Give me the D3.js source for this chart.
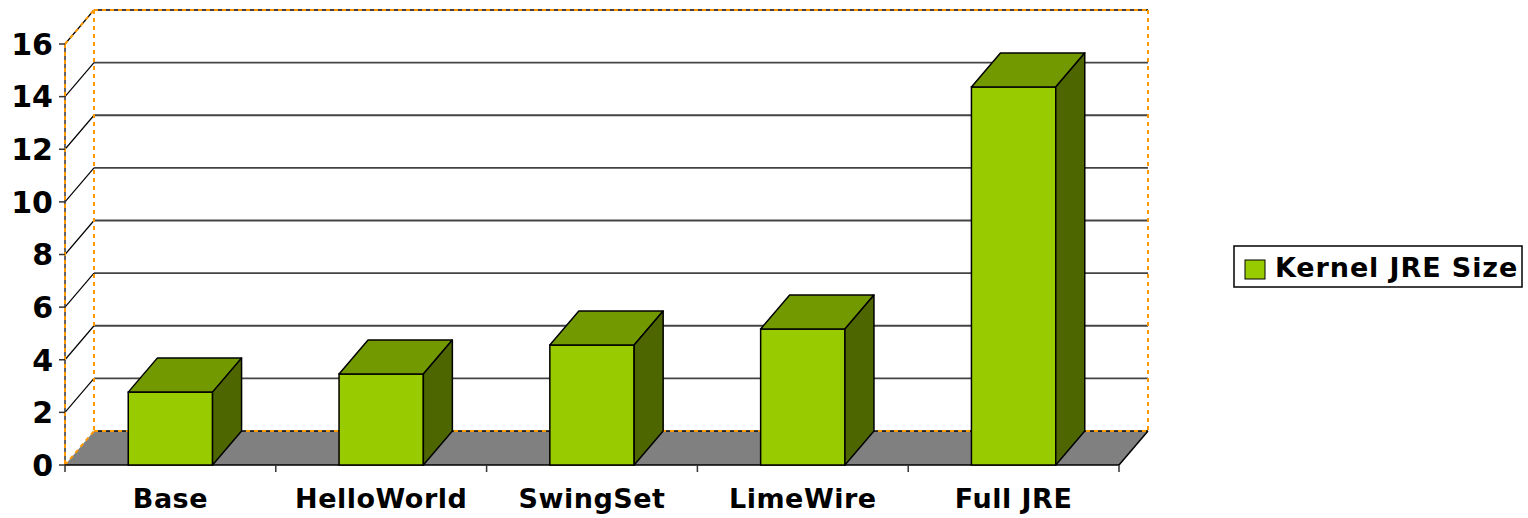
<!DOCTYPE html>
<html>
<head>
<meta charset="utf-8">
<script src="https://cdn.jsdelivr.net/npm/d3@7"></script>
<style>
  body { margin: 0; background: #fff; }
  svg { display: block; }
  text { font-family: "DejaVu Sans", sans-serif; font-weight: bold; fill: #000; }
</style>
</head>
<body>
<svg width="1528" height="518"></svg>
<script>
const width = 1528;
const height = 518;

// data
const categories = ['Base', 'HelloWorld', 'SwingSet', 'LimeWire', 'Full JRE'];
const sizes = [2.77, 3.46, 4.56, 5.17, 14.37];
const yTicks = [0, 2, 4, 6, 8, 10, 12, 14, 16];
const seriesName = 'Kernel JRE Size';

// 3d offset of the back wall
const dx = 29;
const dy = -34;

const plotLeft = 65, plotRight = 1119, plotBottom = 465, plotTop = 44;

const svg = d3.select('svg');

const x = d3.scaleBand()
    .domain(categories)
    .range([plotLeft, plotRight])
    .paddingInner(0.6)
    .paddingOuter(0.3);

// category boundaries for ticks
const xEdge = d3.scaleLinear().domain([0, categories.length]).range([plotLeft, plotRight]);

const y = d3.scaleLinear().domain([0, 16]).range([plotBottom, plotTop]);

const colFront = '#99cc00';
const colTop = '#739900';
const colSide = '#4d6600';
const orange = '#ff9900';

const g = svg.append('g');

// back wall gridlines
g.selectAll('.grid')
    .data(yTicks.filter(d => d > 0 && d < 16))
    .enter().append('line')
    .attr('x1', plotLeft + dx).attr('x2', plotRight + dx)
    .attr('y1', d => y(d) + dy).attr('y2', d => y(d) + dy)
    .attr('stroke', '#444').attr('stroke-width', 1.8);

// left wall diagonals
g.selectAll('.diag')
    .data(yTicks.filter(d => d > 0))
    .enter().append('line')
    .attr('x1', plotLeft).attr('x2', plotLeft + dx)
    .attr('y1', d => y(d)).attr('y2', d => y(d) + dy)
    .attr('stroke', '#000').attr('stroke-width', 1.2);

// back wall top line
g.append('line')
    .attr('x1', plotLeft + dx).attr('x2', plotRight + dx)
    .attr('y1', y(16) + dy).attr('y2', y(16) + dy)
    .attr('stroke', '#000').attr('stroke-width', 1.5);

// floor
g.append('path')
    .attr('d', d3.line()([[plotLeft, plotBottom], [plotRight, plotBottom], [plotRight + dx, plotBottom + dy], [plotLeft + dx, plotBottom + dy]]) + 'Z')
    .attr('fill', '#808080').attr('stroke', 'none');
g.append('line')
    .attr('x1', plotLeft + dx).attr('x2', plotRight + dx)
    .attr('y1', plotBottom + dy).attr('y2', plotBottom + dy)
    .attr('stroke', '#000').attr('stroke-width', 1.5);
g.append('line')
    .attr('x1', plotRight).attr('x2', plotRight + dx)
    .attr('y1', plotBottom).attr('y2', plotBottom + dy)
    .attr('stroke', '#000').attr('stroke-width', 1.5);

// orange dashed wall outlines
const dashes = [
    [[plotLeft + dx, y(16) + dy], [plotRight + dx, y(16) + dy]],
    [[plotRight + dx, y(16) + dy], [plotRight + dx, plotBottom + dy]],
    [[plotLeft + dx, y(16) + dy], [plotLeft + dx, plotBottom + dy]],
    [[plotLeft + dx, plotBottom + dy], [plotRight + dx, plotBottom + dy]],
    [[plotLeft, y(16)], [plotLeft + dx, y(16) + dy]],
    [[plotLeft, plotBottom], [plotLeft + dx, plotBottom + dy]]
];

// y axis line
g.append('line')
    .attr('x1', plotLeft).attr('x2', plotLeft)
    .attr('y1', y(16)).attr('y2', plotBottom)
    .attr('stroke', '#333').attr('stroke-width', 1.5);

g.selectAll('.dash')
    .data(dashes)
    .enter().append('line')
    .attr('x1', d => d[0][0]).attr('y1', d => d[0][1])
    .attr('x2', d => d[1][0]).attr('y2', d => d[1][1])
    .attr('stroke', orange).attr('stroke-width', 2)
    .attr('stroke-dasharray', '4,4');
g.append('line')
    .attr('x1', plotLeft).attr('x2', plotLeft)
    .attr('y1', y(16)).attr('y2', plotBottom)
    .attr('stroke', orange).attr('stroke-width', 2)
    .attr('stroke-dasharray', '4,4');

// y ticks and labels
g.selectAll('.ytick')
    .data(yTicks)
    .enter().append('line')
    .attr('x1', plotLeft - 6).attr('x2', plotLeft)
    .attr('y1', d => y(d)).attr('y2', d => y(d))
    .attr('stroke', '#333').attr('stroke-width', 1.5);
g.selectAll('.ylabel')
    .data(yTicks)
    .enter().append('text')
    .attr('x', 53)
    .attr('y', d => y(d))
    .attr('dy', '0.36em')
    .attr('text-anchor', 'end')
    .style('font-size', '30px')
    .text(d => d);

// bottom axis line and ticks
g.append('line')
    .attr('x1', plotLeft).attr('x2', plotRight)
    .attr('y1', plotBottom).attr('y2', plotBottom)
    .attr('stroke', '#000').attr('stroke-width', 1.5);
g.selectAll('.xtick')
    .data(d3.range(categories.length + 1))
    .enter().append('line')
    .attr('x1', d => xEdge(d)).attr('x2', d => xEdge(d))
    .attr('y1', plotBottom).attr('y2', plotBottom + 7)
    .attr('stroke', '#333').attr('stroke-width', 1.5);

// bars
const bars = g.selectAll('.bar')
    .data(categories.map((c, i) => ({ cat: c, v: sizes[i] })))
    .enter().append('g');

bars.append('rect')
    .attr('x', d => x(d.cat))
    .attr('y', d => y(d.v))
    .attr('width', x.bandwidth())
    .attr('height', d => plotBottom - y(d.v))
    .attr('fill', colFront).attr('stroke', '#000').attr('stroke-width', 1.5);

bars.append('path')
    .attr('d', d => {
        const x0 = x(d.cat), x1 = x0 + x.bandwidth(), yt = y(d.v);
        return d3.line()([[x0, yt], [x1, yt], [x1 + dx, yt + dy], [x0 + dx, yt + dy]]) + 'Z';
    })
    .attr('fill', colTop).attr('stroke', '#000').attr('stroke-width', 1.5).attr('stroke-linejoin', 'round');

bars.append('path')
    .attr('d', d => {
        const x1 = x(d.cat) + x.bandwidth(), yt = y(d.v);
        return d3.line()([[x1, yt], [x1 + dx, yt + dy], [x1 + dx, plotBottom + dy], [x1, plotBottom]]) + 'Z';
    })
    .attr('fill', colSide).attr('stroke', '#000').attr('stroke-width', 1.5).attr('stroke-linejoin', 'round');

// category labels
g.selectAll('.xlabel')
    .data(categories)
    .enter().append('text')
    .attr('x', d => x(d) + x.bandwidth() / 2)
    .attr('y', 508)
    .attr('text-anchor', 'middle')
    .style('font-size', '27px')
    .style('letter-spacing', '0.5px')
    .text(d => d);

// legend
const legend = svg.append('g').attr('transform', 'translate(1234,246)');
legend.append('rect')
    .attr('width', 288).attr('height', 41)
    .attr('fill', '#fff').attr('stroke', '#000').attr('stroke-width', 1.5);
legend.append('rect')
    .attr('x', 11).attr('y', 14).attr('width', 20).attr('height', 19)
    .attr('fill', colFront).attr('stroke', '#000').attr('stroke-width', 1);
legend.append('text')
    .attr('x', 41).attr('y', 31)
    .style('font-size', '27px')
    .style('letter-spacing', '0.9px')
    .text(seriesName);
</script>
</body>
</html>
